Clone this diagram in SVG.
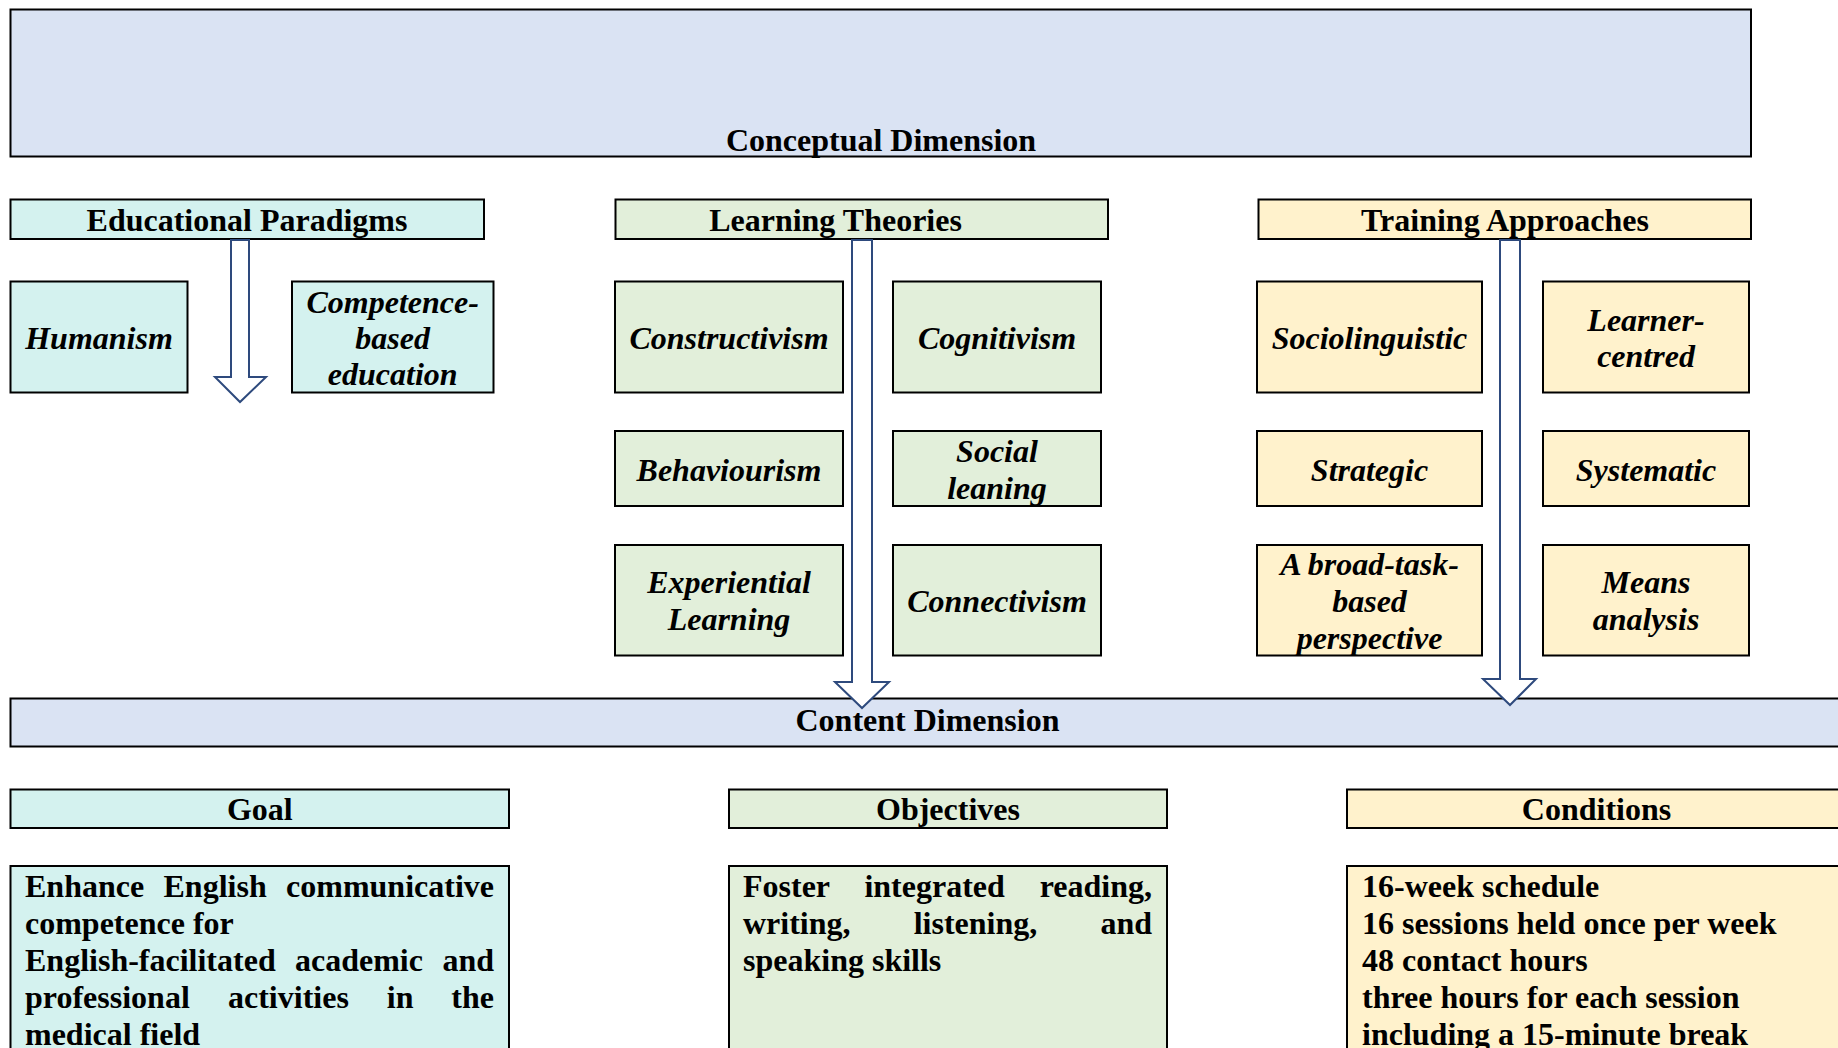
<svg xmlns="http://www.w3.org/2000/svg" width="1838" height="1048" viewBox="0 0 1838 1048">
<style>
  text { font-family: "Liberation Serif", "Times New Roman", serif; font-size: 32px; font-weight: bold; fill: #000; }
  .c { text-anchor: middle; }
  .i { font-style: italic; }
  .box { stroke: #000; stroke-width: 2; }
  .blue { fill: #DAE3F3; }
  .teal { fill: #D4F2EF; }
  .green { fill: #E2EFDA; }
  .yellow { fill: #FFF2CC; }
  .arrow { fill: #FFFFFF; stroke: #2E4A7D; stroke-width: 2; stroke-linejoin: miter; }
</style>
<rect width="1838" height="1048" fill="#FFFFFF"/>

<g id="conceptual-dimension">
  <rect class="box blue" x="10.5" y="9.5" width="1740.5" height="147"/>
  <text class="c" x="881" y="150.5">Conceptual Dimension</text>
</g>

<g id="educational-paradigms">
  <rect class="box teal" x="10.5" y="199.5" width="473.5" height="39.5"/>
  <text class="c" x="247" y="231">Educational Paradigms</text>
</g>
<g id="learning-theories">
  <rect class="box green" x="615.5" y="199.5" width="492.5" height="39.5"/>
  <text class="c" x="835.5" y="231">Learning Theories</text>
</g>
<g id="training-approaches">
  <rect class="box yellow" x="1258.5" y="199.5" width="492.5" height="39.5"/>
  <text class="c" x="1505" y="231">Training Approaches</text>
</g>

<g id="humanism">
  <rect class="box teal" x="10.5" y="281.5" width="177" height="111"/>
  <text class="c i" x="99" y="348.5">Humanism</text>
</g>
<g id="competence-based-education">
  <rect class="box teal" x="292" y="281.5" width="201.5" height="111"/>
  <text class="c i" x="392.7" y="313">Competence-</text>
  <text class="c i" x="392.7" y="348.5">based</text>
  <text class="c i" x="392.7" y="384.5">education</text>
</g>

<g id="constructivism">
  <rect class="box green" x="615" y="281.5" width="228" height="111"/>
  <text class="c i" x="729" y="348.5">Constructivism</text>
</g>
<g id="cognitivism">
  <rect class="box green" x="893" y="281.5" width="208" height="111"/>
  <text class="c i" x="997" y="348.5">Cognitivism</text>
</g>
<g id="behaviourism">
  <rect class="box green" x="615" y="431" width="228" height="75"/>
  <text class="c i" x="729" y="480.5">Behaviourism</text>
</g>
<g id="social-leaning">
  <rect class="box green" x="893" y="431" width="208" height="75"/>
  <text class="c i" x="997" y="462">Social</text>
  <text class="c i" x="997" y="498.5">leaning</text>
</g>
<g id="experiential-learning">
  <rect class="box green" x="615" y="545" width="228" height="110.5"/>
  <text class="c i" x="729" y="593">Experiential</text>
  <text class="c i" x="729" y="629.5">Learning</text>
</g>
<g id="connectivism">
  <rect class="box green" x="893" y="545" width="208" height="110.5"/>
  <text class="c i" x="997" y="611.5">Connectivism</text>
</g>

<g id="sociolinguistic">
  <rect class="box yellow" x="1257" y="281.5" width="225" height="111"/>
  <text class="c i" x="1369.5" y="348.5">Sociolinguistic</text>
</g>
<g id="learner-centred">
  <rect class="box yellow" x="1543" y="281.5" width="206" height="111"/>
  <text class="c i" x="1646" y="330.5">Learner-</text>
  <text class="c i" x="1646" y="367">centred</text>
</g>
<g id="strategic">
  <rect class="box yellow" x="1257" y="431" width="225" height="75"/>
  <text class="c i" x="1369.5" y="480.5">Strategic</text>
</g>
<g id="systematic">
  <rect class="box yellow" x="1543" y="431" width="206" height="75"/>
  <text class="c i" x="1646" y="480.5">Systematic</text>
</g>
<g id="broad-task-based-perspective">
  <rect class="box yellow" x="1257" y="545" width="225" height="110.5"/>
  <text class="c i" x="1369.5" y="574.5">A broad-task-</text>
  <text class="c i" x="1369.5" y="611.5">based</text>
  <text class="c i" x="1369.5" y="648.5">perspective</text>
</g>
<g id="means-analysis">
  <rect class="box yellow" x="1543" y="545" width="206" height="110.5"/>
  <text class="c i" x="1646" y="593">Means</text>
  <text class="c i" x="1646" y="629.5">analysis</text>
</g>

<g id="content-dimension">
  <rect class="box blue" x="10.5" y="698.5" width="1835" height="48"/>
  <text class="c" x="927.5" y="730.5">Content Dimension</text>
</g>

<g id="goal">
  <rect class="box teal" x="10.5" y="789.5" width="498.5" height="38.5"/>
  <text class="c" x="259.8" y="820">Goal</text>
</g>
<g id="objectives">
  <rect class="box green" x="729" y="789.5" width="438" height="38.5"/>
  <text class="c" x="948" y="820">Objectives</text>
</g>
<g id="conditions">
  <rect class="box yellow" x="1347" y="789.5" width="500" height="38.5"/>
  <text class="c" x="1596.5" y="820">Conditions</text>
</g>

<g id="goal-text">
  <rect class="box teal" x="10.5" y="866" width="498.5" height="200"/>
  <text y="896.5"><tspan x="25">Enhance</tspan><tspan x="163.5">English</tspan><tspan x="494" text-anchor="end">communicative</tspan></text>
  <text x="25" y="933.5">competence for</text>
  <text y="970.5"><tspan x="25">English-facilitated</tspan><tspan x="295">academic</tspan><tspan x="494" text-anchor="end">and</tspan></text>
  <text y="1007.5"><tspan x="25">professional</tspan><tspan x="228">activities</tspan><tspan x="386.8">in</tspan><tspan x="494" text-anchor="end">the</tspan></text>
  <text x="25" y="1044.5">medical field</text>
</g>
<g id="objectives-text">
  <rect class="box green" x="729" y="866" width="438" height="200"/>
  <text y="896.5"><tspan x="743">Foster</tspan><tspan x="864.4">integrated</tspan><tspan x="1152" text-anchor="end">reading,</tspan></text>
  <text y="933.5"><tspan x="743">writing,</tspan><tspan x="913.7">listening,</tspan><tspan x="1152" text-anchor="end">and</tspan></text>
  <text x="743" y="970.5">speaking skills</text>
</g>
<g id="conditions-text">
  <rect class="box yellow" x="1347" y="866" width="500" height="200"/>
  <text x="1362" y="896.5">16-week schedule</text>
  <text x="1362" y="933.5">16 sessions held once per week</text>
  <text x="1362" y="970.5">48 contact hours</text>
  <text x="1362" y="1007.5">three hours for each session</text>
  <text x="1362" y="1044.5">including a 15-minute break</text>
</g>

<g id="connectors">
  <polygon class="arrow" points="231,240 249,240 249,377 266,377 240,402 215,377 231,377"/>
  <polygon class="arrow" points="852,240 872,240 872,682 889,682 862,708 835,682 852,682"/>
  <polygon class="arrow" points="1500,240 1520,240 1520,679 1536,679 1510,705 1483,679 1500,679"/>
</g>
</svg>
